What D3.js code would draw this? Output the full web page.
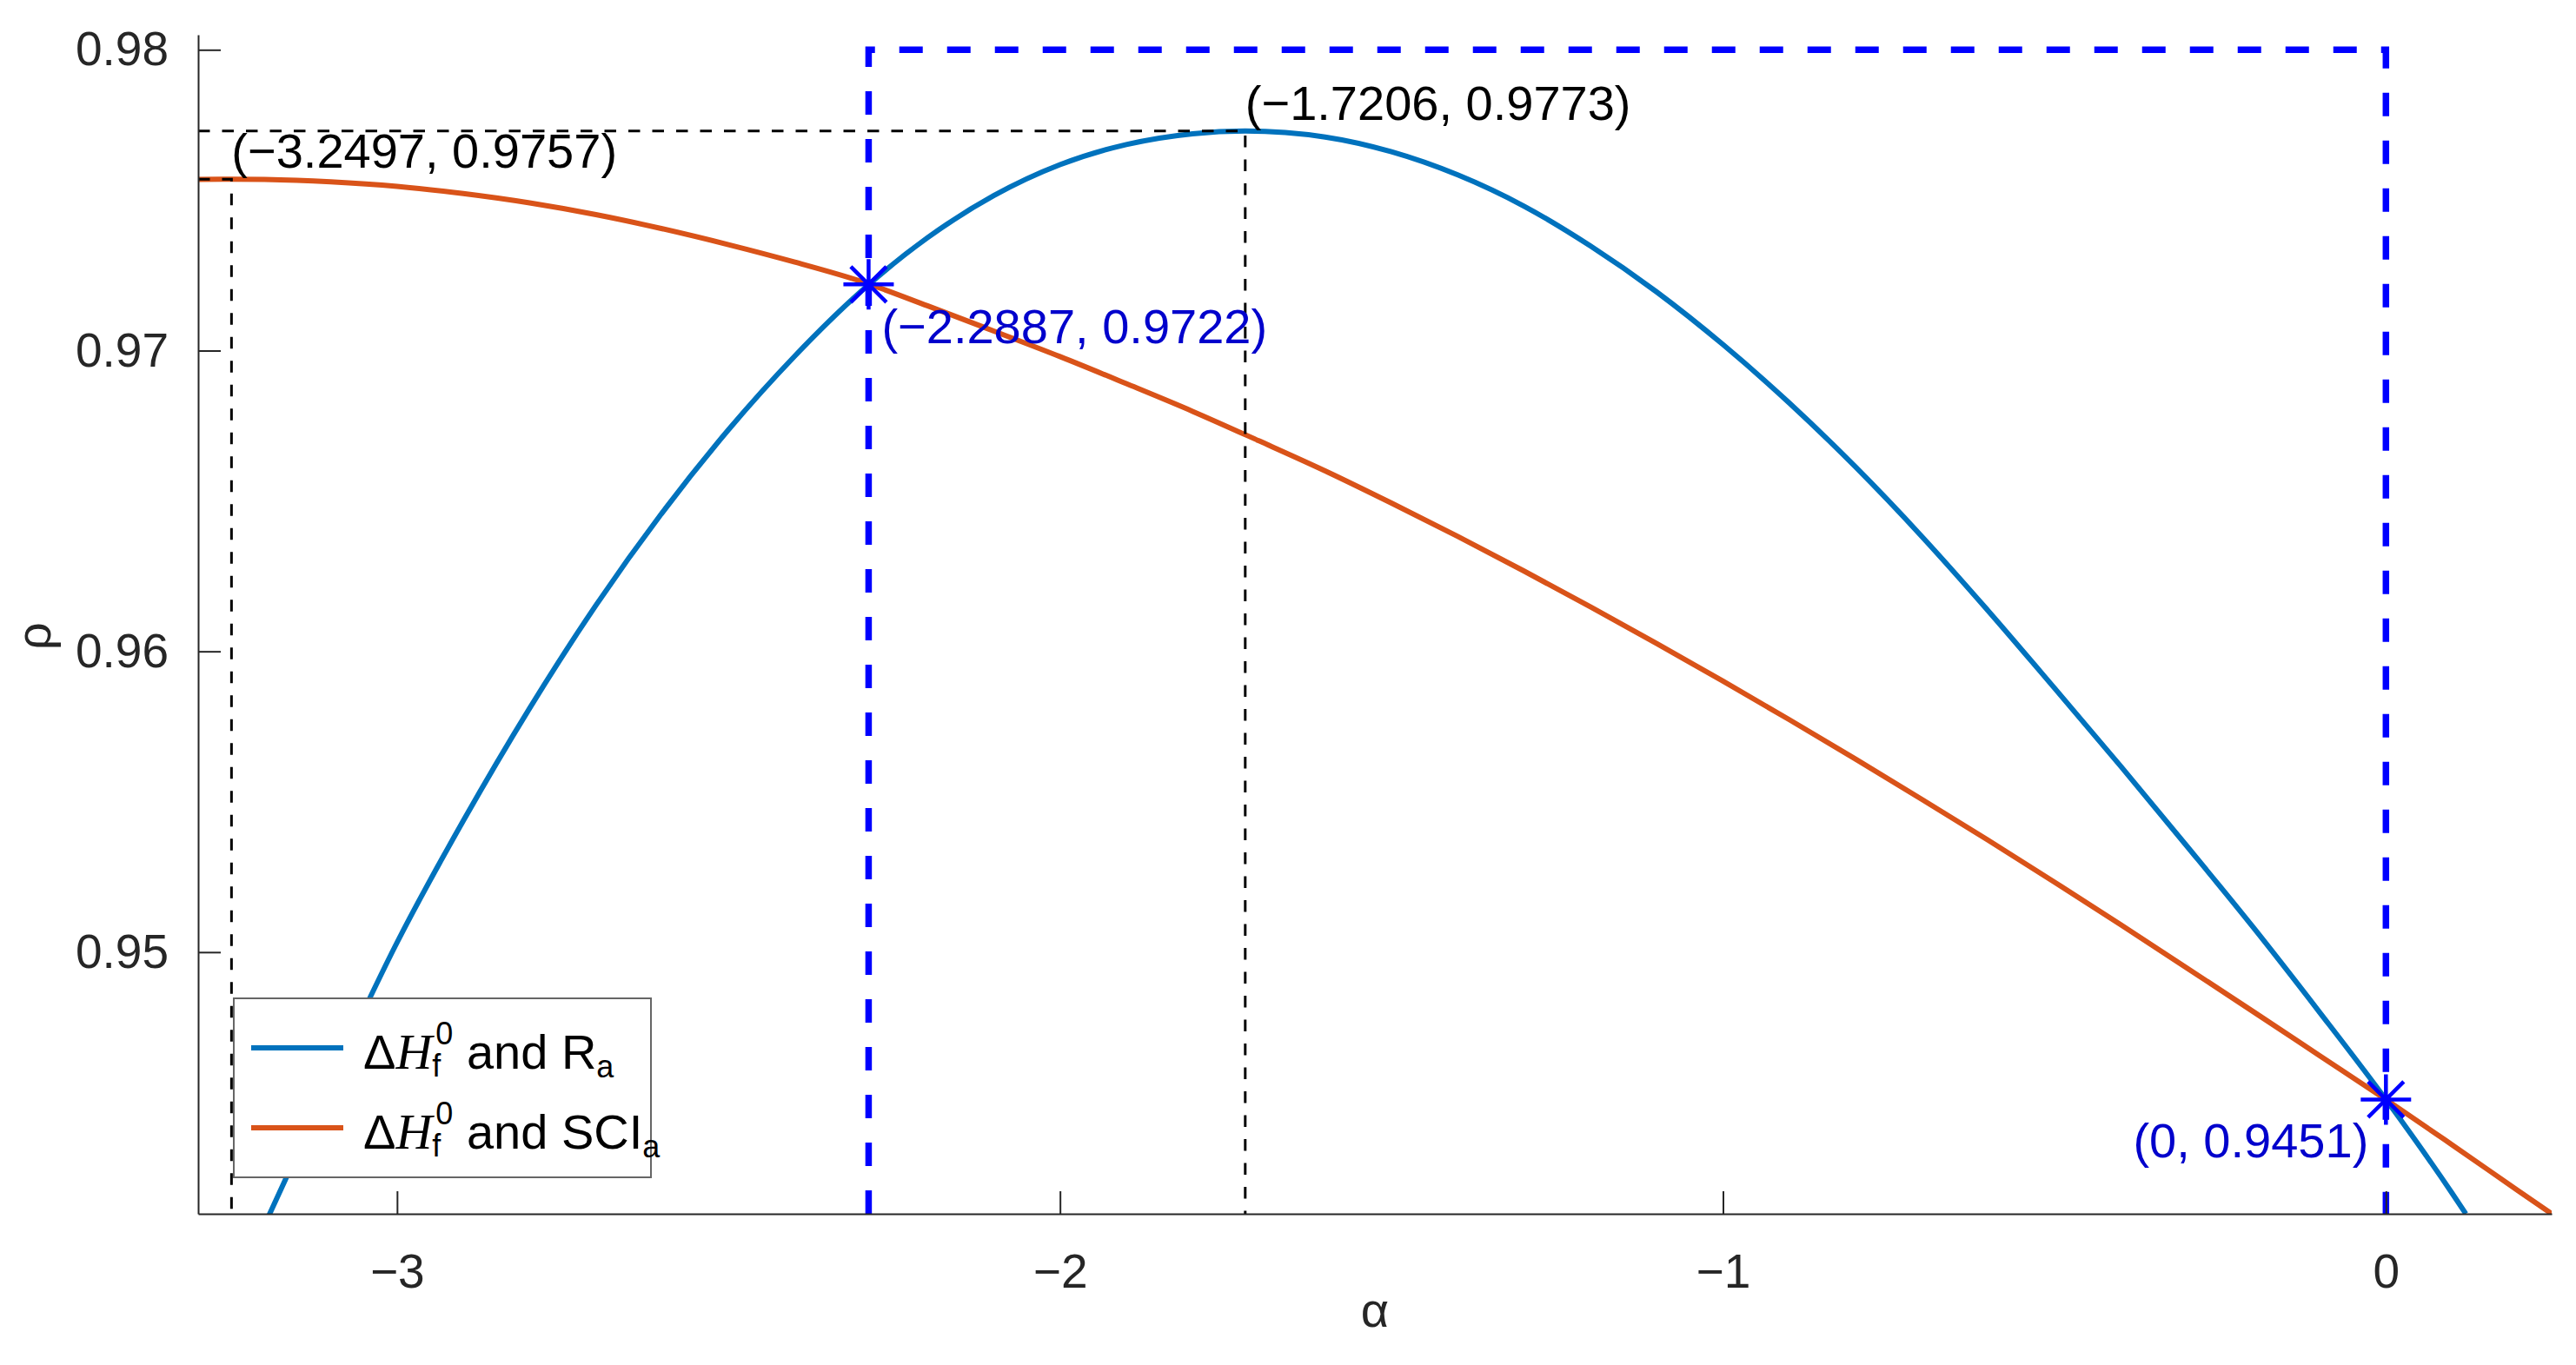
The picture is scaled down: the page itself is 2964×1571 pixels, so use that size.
<!DOCTYPE html>
<html><head><meta charset="utf-8">
<script src="https://cdn.jsdelivr.net/npm/d3@7"></script>
<style>
body{margin:0;background:#fff}
svg{display:block;background:#fff}
text{font-family:"Liberation Sans",Arial,Helvetica,sans-serif}
</style>
</head><body>
<svg id="chart" width="2964" height="1571"></svg>
<script>
// ---- data ----
const alphaBlue = [-3.2,-3.1,-3.0,-2.9,-2.8,-2.7,-2.6,-2.5,-2.4,-2.3,-2.2,-2.1,-2.0,-1.9,-1.8,-1.7206,-1.6,-1.5,-1.4,-1.3,-1.2,-1.1,-1.0,-0.9,-0.8,-0.7,-0.6,-0.5,-0.4,-0.3,-0.2,-0.1,0,0.1,0.1206];
const rhoBlue   = [0.94092,0.94572,0.95032,0.95437,0.95811,0.96153,0.96461,0.96737,0.96982,0.97197,0.97375,0.97515,0.97618,0.97685,0.97721,0.9773,0.9771,0.97661,0.97584,0.9748,0.97348,0.97195,0.9702,0.96826,0.96613,0.96382,0.96135,0.95878,0.95618,0.95352,0.95082,0.948,0.9451,0.94198,0.9413];
const alphaOrange = [-3.3,-3.2497,-3.2,-3.1,-3.0,-2.9,-2.8,-2.7,-2.6,-2.5,-2.4,-2.3,-2.2,-2.1,-2.0,-1.9,-1.8,-1.7,-1.6,-1.5,-1.4,-1.3,-1.2,-1.1,-1.0,-0.9,-0.8,-0.7,-0.6,-0.5,-0.4,-0.3,-0.2,-0.1,0,0.1,0.2,0.25];
const rhoOrange   = [0.97569,0.9757,0.97569,0.97561,0.97546,0.97522,0.97491,0.97452,0.97405,0.97352,0.97294,0.9723,0.97149,0.97065,0.9698,0.9689,0.96798,0.967,0.966,0.96493,0.96382,0.96267,0.96148,0.96026,0.95901,0.95773,0.95642,0.95508,0.95372,0.95233,0.95091,0.94947,0.94802,0.94656,0.9451,0.94359,0.94206,0.9413];
const xDomain = [-3.3, 0.25];
const yDomain = [0.9413, 0.9805];
const xTicks = [-3,-2,-1,0];
const xTickLabels = ["\u22123","\u22122","\u22121","0"];
const yTicks = [0.95,0.96,0.97,0.98];
const yTickLabels = ["0.95","0.96","0.97","0.98"];
const maxAlpha = [-3.2497,-1.7206];      // maxima marked with black dashed guides
const maxRho   = [0.9757,0.9773];
const markAlpha = [-2.2887,0];          // blue star points
const markRho   = [0.9722,0.9451];
const boxTop = 0.98;                     // top of blue dashed region
const seriesNames = ["and R","and SCI"];

// ---- drawing ----
const svg = d3.select("#chart");
const L=228, R=2936, T=40, B=1397;
const x = d3.scaleLinear().domain(xDomain).range([L,R]);
const y = d3.scaleLinear().domain(yDomain).range([B,T]);
const fmt = v => String(v).replace("-","\u2212");
const axisColor="#262626";

svg.append("defs").append("clipPath").attr("id","clip")
  .append("rect").attr("x",L).attr("y",T).attr("width",R-L).attr("height",B-T);

const line = d3.line().x(d=>x(d[0])).y(d=>y(d[1])).curve(d3.curveMonotoneX);
const blueData = alphaBlue.map((a,i)=>[a,rhoBlue[i]]);
const orangeData = alphaOrange.map((a,i)=>[a,rhoOrange[i]]);
const g = svg.append("g").attr("clip-path","url(#clip)");
g.append("path").attr("d",line(blueData)).attr("fill","none").attr("stroke","#0072BD").attr("stroke-width",6);
g.append("path").attr("d",line(orangeData)).attr("fill","none").attr("stroke","#D95319").attr("stroke-width",6);

// black dashed guides to maxima
maxAlpha.forEach((a,i)=>{
  const p = d3.path();
  p.moveTo(x(xDomain[0]), y(maxRho[i]));
  p.lineTo(x(a), y(maxRho[i]));
  p.lineTo(x(a), y(yDomain[0]));
  svg.append("path").attr("d",p.toString()).attr("fill","none").attr("stroke","#000")
    .attr("stroke-width",3).attr("stroke-dasharray","13.5,14");
});

// blue dashed region
{
  const p = d3.path();
  p.moveTo(x(markAlpha[0]), y(yDomain[0]));
  p.lineTo(x(markAlpha[0]), y(boxTop));
  p.lineTo(x(markAlpha[1]), y(boxTop));
  p.lineTo(x(markAlpha[1]), y(yDomain[0]));
  svg.append("path").attr("d",p.toString()).attr("fill","none").attr("stroke","#0000FF")
    .attr("stroke-width",7.5).attr("stroke-dasharray","27,28");
}

// axes
const xAxis = d3.axisBottom(x).tickValues(xTicks).tickFormat((d,i)=>xTickLabels[i])
  .tickSizeInner(-26).tickSizeOuter(0).tickPadding(46);
const yAxis = d3.axisLeft(y).tickValues(yTicks).tickFormat((d,i)=>yTickLabels[i])
  .tickSizeInner(-26).tickSizeOuter(0).tickPadding(34);
const gx = svg.append("g").attr("transform",`translate(0,${B})`).call(xAxis);
const gy = svg.append("g").attr("transform",`translate(${L},0)`).call(yAxis);
[gx,gy].forEach(a=>{
  a.select(".domain").attr("stroke",axisColor).attr("stroke-width",2);
  a.selectAll(".tick line").attr("stroke",axisColor).attr("stroke-width",2);
  a.selectAll(".tick text").attr("fill",axisColor).attr("font-size",55)
    .attr("font-family","'Liberation Sans',Arial,sans-serif");
});

svg.append("text").attr("x",(L+R)/2).attr("y",1527).attr("text-anchor","middle")
  .attr("font-size",56).attr("fill",axisColor).text("\u03b1");
svg.append("text").attr("transform",`translate(58,732) rotate(-90)`).attr("text-anchor","middle")
  .attr("font-size",56).attr("fill",axisColor).text("\u03c1");

// stars
const star = r => `M${-r},0L${r},0M0,${-r}L0,${r}M${-r*0.707},${-r*0.707}L${r*0.707},${r*0.707}M${-r*0.707},${r*0.707}L${r*0.707},${-r*0.707}`;
markAlpha.forEach((a,i)=>{
  svg.append("path").attr("transform",`translate(${x(a)},${y(markRho[i])})`)
    .attr("d",star(29)).attr("stroke","#0000FF").attr("stroke-width",4.5).attr("fill","none");
});

// annotations
maxAlpha.forEach((a,i)=>{
  svg.append("text").attr("x",x(a)).attr("y",y(maxRho[i])-13).attr("font-size",56).attr("fill","#000")
    .text(`(${fmt(a)}, ${fmt(maxRho[i])})`);
});
const markDx=[15,-20], markDy=[68,67], markAnchor=["start","end"];
markAlpha.forEach((a,i)=>{
  svg.append("text").attr("x",x(a)+markDx[i]).attr("y",y(markRho[i])+markDy[i])
    .attr("text-anchor",markAnchor[i]).attr("font-size",56).attr("fill","#0000CC")
    .text(`(${fmt(a)}, ${fmt(markRho[i])})`);
});

// legend
const lg = svg.append("g");
lg.append("rect").attr("x",269).attr("y",1149).attr("width",480).attr("height",206)
  .attr("fill","#fff").attr("stroke","#666").attr("stroke-width",2);
const legColors=["#0072BD","#D95319"];
const rowY=[1206,1298];
seriesNames.forEach((nm,i)=>{
  lg.append("line").attr("x1",289).attr("x2",395).attr("y1",rowY[i]).attr("y2",rowY[i])
    .attr("stroke",legColors[i]).attr("stroke-width",6);
  const t = lg.append("text").attr("x",418).attr("y",rowY[i]+24).attr("font-size",56).attr("fill","#000");
  t.append("tspan").text("\u0394");
  t.append("tspan").attr("font-family","'Liberation Serif','Times New Roman',serif").attr("font-style","italic").attr("font-size",58).text("H");
  t.append("tspan").attr("font-size",36).attr("dy",9).text("f");
  t.append("tspan").attr("font-size",36).attr("dx",-6).attr("dy",-37).text("0");
  t.append("tspan").attr("dy",28).text("\u00a0"+nm);
  t.append("tspan").attr("font-size",36).attr("dy",10).text("a");
});
</script>
</body></html>
